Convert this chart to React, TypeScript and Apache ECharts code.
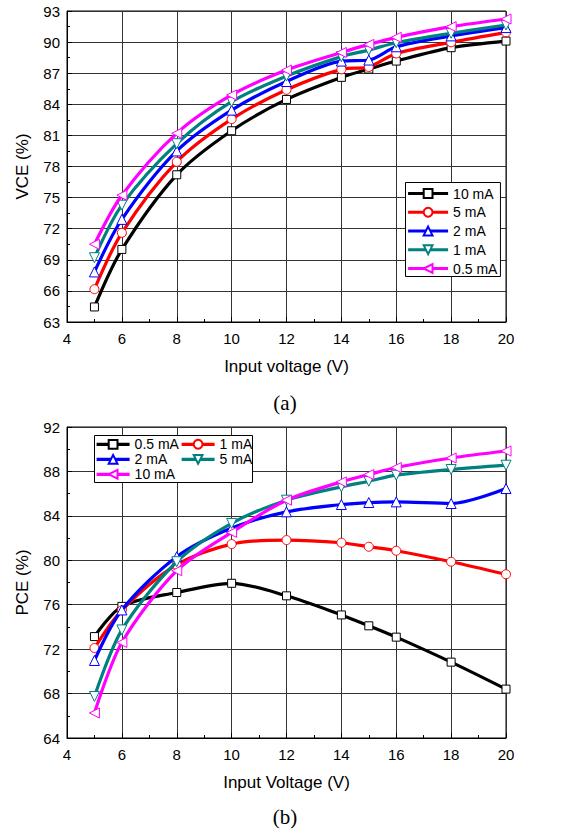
import React, { useEffect, useRef } from "react";
import * as echarts from "echarts";

const voltages = [5, 6, 8, 10, 12, 14, 15, 16, 18, 20];

const vceNames = ["10 mA", "5 mA", "2 mA", "1 mA", "0.5 mA"];
const vce10mA = [64.45, 70.0, 77.2, 81.45, 84.47, 86.6, 87.4, 88.17, 89.46, 90.1];
const vce5mA = [66.16, 71.6, 78.45, 82.57, 85.4, 87.37, 87.6, 88.9, 89.98, 90.94];
const vce2mA = [67.83, 72.9, 79.5, 83.44, 86.2, 88.17, 88.27, 89.55, 90.6, 91.4];
const vce1mA = [69.2, 74.27, 80.2, 84.25, 86.72, 88.6, 89.23, 89.94, 90.85, 91.65];
const vce05mA = [70.5, 75.23, 81.2, 84.9, 87.3, 89.0, 89.78, 90.46, 91.49, 92.23];
const vceValues = [vce10mA, vce5mA, vce2mA, vce1mA, vce05mA];

const pceNames = ["0.5 mA", "1 mA", "2 mA", "5 mA", "10 mA"];
const pce05mA = [73.13, 75.85, 77.1, 77.93, 76.8, 75.08, 74.1, 73.08, 70.83, 68.4];
const pce1mA = [72.1, 75.5, 79.6, 81.46, 81.82, 81.58, 81.22, 80.86, 79.87, 78.74];
const pce2mA = [70.98, 75.53, 80.32, 82.9, 84.36, 85.02, 85.2, 85.26, 85.11, 86.46];
const pce5mA = [67.74, 73.73, 79.87, 83.32, 85.41, 86.61, 87.12, 87.66, 88.17, 88.56];
const pce10mA = [66.25, 72.6, 79.06, 82.51, 85.41, 87.06, 87.72, 88.35, 89.21, 89.84];
const pceValues = [pce05mA, pce1mA, pce2mA, pce5mA, pce10mA];

const STYLES = [
  { color: "#000000", symbol: "rect", rotate: 0, size: 8 },
  { color: "#ff0000", symbol: "circle", rotate: 0, size: 9 },
  { color: "#0000ff", symbol: "triangle", rotate: 0, size: 10 },
  { color: "#008080", symbol: "triangle", rotate: 180, size: 10 },
  { color: "#ff00ff", symbol: "triangle", rotate: 90, size: 10 },
];

const FONT = "Liberation Sans";
const PREFIX_B = "b:";

function makeSeries(name: string, values: number[], i: number, axis: number) {
  const st = STYLES[i];
  return {
    name,
    type: "line",
    xAxisIndex: axis,
    yAxisIndex: axis,
    data: voltages.map((v, k) => [v, values[k]]),
    smooth: 0.3,
    symbol: st.symbol,
    symbolSize: st.size,
    symbolRotate: st.rotate,
    showAllSymbol: true,
    lineStyle: { color: st.color, width: 3.2 },
    itemStyle: { color: "#ffffff", borderColor: st.color, borderWidth: 1 },
    emphasis: { disabled: true },
    z: 2 + i * 0.01,
  };
}

function xAxisCfg(gridIndex: number, name: string) {
  return {
    type: "value",
    gridIndex,
    min: 4,
    max: 20,
    interval: 2,
    name,
    nameLocation: "middle",
    nameGap: 36,
    nameTextStyle: { fontFamily: FONT, fontSize: 17, color: "#000" },
    axisLine: { show: true, onZero: false, lineStyle: { color: "#000", width: 1 } },
    axisTick: { show: true, inside: true, length: 5, lineStyle: { color: "#000" } },
    minorTick: { show: true, splitNumber: 2, length: 3, lineStyle: { color: "#000" } },
    axisLabel: { fontFamily: FONT, fontSize: 15, color: "#000", margin: 9 },
    splitLine: { show: true, lineStyle: { color: "#333", width: 1 } },
  };
}

function yAxisCfg(gridIndex: number, name: string, min: number, max: number, interval: number) {
  return {
    type: "value",
    gridIndex,
    min,
    max,
    interval,
    name,
    nameLocation: "middle",
    nameGap: 36,
    nameTextStyle: { fontFamily: FONT, fontSize: 17, color: "#000" },
    axisLine: { show: true, onZero: false, lineStyle: { color: "#000", width: 1 } },
    axisTick: { show: true, inside: true, length: 5, lineStyle: { color: "#000" } },
    minorTick: { show: true, splitNumber: 2, length: 3, lineStyle: { color: "#000" } },
    axisLabel: { fontFamily: FONT, fontSize: 15, color: "#000", margin: 7 },
    splitLine: { show: true, lineStyle: { color: "#333", width: 1 } },
  };
}

export default function App() {
  const ref = useRef<HTMLDivElement>(null);

  useEffect(() => {
    document.body.style.margin = "0";
    if (!ref.current) return;
    const chart = echarts.init(ref.current, null, { renderer: "svg" });

    const series: any[] = [];
    vceNames.forEach((n, i) => series.push(makeSeries(n, vceValues[i], i, 0)));
    pceNames.forEach((n, i) => series.push(makeSeries(PREFIX_B + n, pceValues[i], i, 1)));

    const legendText = { fontFamily: FONT, fontSize: 14, color: "#000" };
    const legendCommon = {
      orient: "vertical",
      itemHeight: 11,
      lineStyle: { width: 3.2 },
      textStyle: legendText,
      selectedMode: false,
    };

    chart.setOption({
      animation: false,
      backgroundColor: "#ffffff",
      grid: [
        { left: 67, top: 11, width: 439, height: 311, show: true, borderColor: "#000", borderWidth: 1, backgroundColor: "transparent" },
        { left: 67, top: 427, width: 439, height: 311, show: true, borderColor: "#000", borderWidth: 1, backgroundColor: "transparent" },
      ],
      xAxis: [xAxisCfg(0, "Input voltage (V)"), xAxisCfg(1, "Input Voltage (V)")],
      yAxis: [yAxisCfg(0, "VCE (%)", 63, 93, 3), yAxisCfg(1, "PCE (%)", 64, 92, 4)],
      legend: [
        {
          ...legendCommon,
          data: vceNames,
          left: 405.5,
          top: 182.5,
          itemWidth: 40,
          itemGap: 4.75,
          padding: [4, 3, 1, 1],
          borderColor: "#000",
          borderWidth: 1,
          backgroundColor: "#fff",
        },
        {
          ...legendCommon,
          data: [PREFIX_B + "0.5 mA", PREFIX_B + "2 mA", PREFIX_B + "10 mA"],
          left: 95,
          top: 437.3,
          itemWidth: 33,
          itemGap: 1,
          padding: 0,
          formatter: (n: string) => n.replace(PREFIX_B, ""),
        },
        {
          ...legendCommon,
          data: [PREFIX_B + "1 mA", PREFIX_B + "5 mA"],
          left: 180,
          top: 437.3,
          itemWidth: 33,
          itemGap: 1,
          padding: 0,
          formatter: (n: string) => n.replace(PREFIX_B, ""),
        },
      ],
      graphic: [
        {
          type: "rect",
          z: 3,
          shape: { x: 94.5, y: 435.5, width: 158, height: 47 },
          style: { fill: "#fff", stroke: "#000", lineWidth: 1 },
        },
        {
          type: "text",
          x: 285,
          y: 403,
          style: { text: "(a)", font: '21px "Liberation Serif"', fill: "#000", textAlign: "center", textVerticalAlign: "middle" },
        },
        {
          type: "text",
          x: 285,
          y: 817,
          style: { text: "(b)", font: '21px "Liberation Serif"', fill: "#000", textAlign: "center", textVerticalAlign: "middle" },
        },
      ],
      series,
    });

    return () => chart.dispose();
  }, []);

  return <div ref={ref} style={{ width: 570, height: 834 }} />;
}
